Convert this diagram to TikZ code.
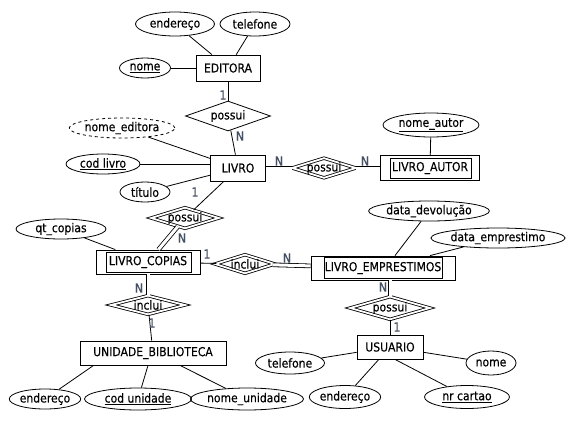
\documentclass[tikz,border=0pt]{standalone}
\usepackage{fontspec}
\setmainfont{DejaVu Sans}[FakeStretch=0.88,FakeBold=0.35]
\usetikzlibrary{shapes.geometric,calc}
\definecolor{cardc}{RGB}{70,80,100}
\begin{document}
\begin{tikzpicture}[x=1pt,y=-1pt, line width=0.8pt,
 every node/.style={font=\fontsize{12.3}{14}\selectfont, inner sep=0pt},
 sz/.style 2 args={minimum width=#1pt, minimum height=#2pt},
 attr/.style={draw, ellipse},
 ent/.style={draw, rectangle},
 rel/.style={draw, diamond, label={center:#1}},
 wrel/.style={draw, diamond, double, double distance=1.8pt, label={center:#1}},
 dbl/.style={double, double distance=3pt},
 card/.style={text=cardc, font=\fontsize{12.5}{14}\selectfont},
]
\useasboundingbox (0,0) rectangle (566,421);

% EDITORA group
\node[attr, sz={79}{24}] (endEd) at (175,24) {endereço};
\node[attr, sz={70}{24}] (telEd) at (255,24) {telefone};
\node[attr, sz={51}{20}] (nomeEd) at (145,68) {\underline{nome}};
\node[ent, sz={64}{26}] (editora) at (228,68) {EDITORA};
\node[rel=possui, sz={85}{30}] (possuiEL) at (228,116) {};

% LIVRO group
\node[ent, sz={55}{26}] (livro) at (238,168) {LIVRO};
\node[attr, dashed, sz={95}{20}] (nomeEditora) at (122,128) {nome\_editora};
\node[attr, sz={74}{20}] (codLivro) at (103,164) {\underline{cod livro}};
\node[attr, sz={50}{20}] (titulo) at (145,192) {título};

\node[wrel=possui, sz={64}{20}] (possuiLA) at (324,168) {};
\node[ent, sz={99}{25}] (livroAutor) at (430,168) {LIVRO\_AUTOR};
\node[attr, sz={96}{24}] (nomeAutor) at (431,125) {\underline{nome\_autor}};

\node[wrel=possui, sz={68}{21}] (possuiLC) at (185,218) {};
\node[attr, sz={90}{20}] (qt) at (61,229) {qt\_copias};
\node[ent, sz={104}{24}] (livroCopias) at (148,262) {LIVRO\_COPIAS};
\node[wrel=inclui, sz={60}{19}] (incluiCE) at (245,264) {};
\node[ent, sz={144}{24}] (livroEmp) at (383,268) {LIVRO\_EMPRESTIMOS};
\node[attr, sz={108}{20}] (dataDev) at (429,211) {data\_devolução};
\node[attr, sz={116}{20}] (dataEmp) at (498,238) {data\_emprestimo};

\node[wrel=inclui, sz={74}{19}] (incluiUB) at (148,305) {};
\node[ent, sz={146}{24}] (unidade) at (153,353) {UNIDADE\_BIBLIOTECA};
\node[attr, sz={70}{20}] (endUB) at (45,399) {endereço};
\node[attr, sz={107}{22}] (codUn) at (138,399) {\underline{cod unidade}};
\node[attr, sz={103}{22}] (nomeUn) at (247,399) {nome\_unidade};

\node[wrel=possui, sz={80}{23}] (possuiEU) at (390,308) {};
\node[ent, sz={66}{24}] (usuario) at (390,347) {USUARIO};
\node[attr, sz={69}{22}] (telU) at (290,363) {telefone};
\node[attr, sz={50}{24}] (nomeU) at (491,363) {nome};
\node[attr, sz={68}{23}] (endU) at (345,397) {endereço};
\node[attr, sz={85}{23}] (nrCartao) at (467,397) {\underline{nr cartao}};

% inner rectangles of weak entities
\draw ($(livroAutor.north west)+(10,3)$) rectangle ($(livroAutor.south east)+(-9,-3)$);
\draw ($(livroCopias.north west)+(11,3)$) rectangle ($(livroCopias.south east)+(-9,-2)$);
\draw ($(livroEmp.north west)+(14,2)$) rectangle ($(livroEmp.south east)+(-13,-2)$);

% connectors
\draw (endEd) -- (editora);
\draw (telEd) -- (editora);
\draw (nomeEd) -- (editora);
\draw (editora) -- (possuiEL);
\draw (possuiEL) -- (livro);
\draw (nomeEditora) -- (livro);
\draw (codLivro.east) -- (codLivro -| livro.west);
\draw (titulo) -- (livro);
\draw[dbl] (livro) -- (possuiLA);
\draw[dbl] (possuiLA) -- (livroAutor);
\draw (nomeAutor) -- (livroAutor);
\draw (livro) -- (possuiLC);
\draw[dbl] (possuiLC) -- (livroCopias);
\draw (qt) -- (livroCopias);
\draw (livroCopias) -- (incluiCE);
\draw[dbl] (incluiCE) -- (livroEmp);
\draw (dataDev) -- ($(livroEmp.north)+(12,0)$);
\draw (dataEmp) -- ($(livroEmp.north)+(47,0)$);
\draw[dbl] (possuiEU.north) -- (possuiEU.north |- livroEmp.south);
\draw (possuiEU) -- (usuario);
\draw (usuario) -- (telU);
\draw (usuario) -- (nomeU);
\draw (usuario) -- (endU);
\draw ($(usuario.south)+(5,0)$) -- (nrCartao);
\draw[dbl] (livroCopias) -- (incluiUB);
\draw (incluiUB) -- (unidade);
\draw ($(unidade.south west)+(14,0)$) -- (endUB);
\draw ($(unidade.south)+(-5,0)$) -- (codUn);
\draw ($(unidade.south)+(27,0)$) -- (nomeUn);

% cardinalities
\node[card] (c1) at (223,95) {1};
\node[card] (c2) at (240,136) {N};
\node[card] (c3) at (279,161) {N};
\node[card] (c4) at (365,161) {N};
\node[card] (c5) at (195,192) {1};
\node[card] (c6) at (182,238) {N};
\node[card] (c7) at (207,254) {1};
\node[card] (c8) at (287,258) {N};
\node[card] (c9) at (139,288) {N};
\node[card] (c10) at (152,323) {1};
\node[card] (c11) at (383,287) {N};
\node[card] (c12) at (397,327) {1};
\end{tikzpicture}
\end{document}
